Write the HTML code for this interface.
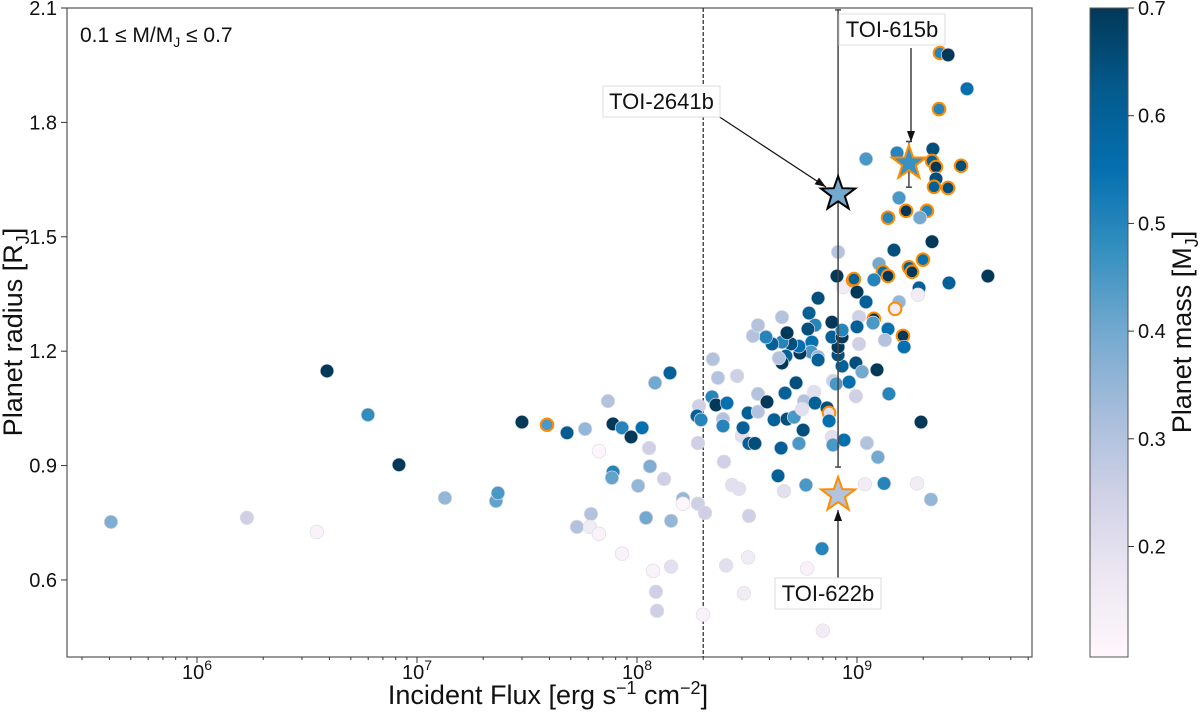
<!DOCTYPE html>
<html><head><meta charset="utf-8"><style>
body{margin:0;background:#fff}
svg{font-family:"Liberation Sans","DejaVu Sans",sans-serif}
</style></head><body>
<svg id="c" width="1200" height="713" xmlns="http://www.w3.org/2000/svg">
<defs><linearGradient id="cm" x1="0" y1="1" x2="0" y2="0">
<stop offset="0" stop-color="#fff7fb"/><stop offset="0.125" stop-color="#ece7f2"/><stop offset="0.25" stop-color="#d0d1e6"/><stop offset="0.375" stop-color="#a6bddb"/><stop offset="0.5" stop-color="#74a9cf"/><stop offset="0.625" stop-color="#3690c0"/><stop offset="0.75" stop-color="#0570b0"/><stop offset="0.875" stop-color="#045a8d"/><stop offset="1" stop-color="#023858"/>
</linearGradient></defs>
</svg>
<script>
const logFlux=[5.609,6.227,6.545,6.591,6.777,6.918,7.127,7.359,7.368,7.477,7.591,7.682,8.150,8.082,7.868,7.764,7.891,7.932,7.973,8.023,7.827,8.055,7.891,7.886,8.059,8.005,8.123,8.209,8.209,8.277,8.309,8.041,8.155,7.791,7.727,7.786,7.827,8.509,8.282,8.273,8.291,8.277,8.345,8.368,8.455,8.341,8.359,8.409,8.391,8.391,8.395,8.432,8.464,8.477,8.482,8.505,8.55,8.55,8.591,8.509,8.536,8.623,8.682,8.714,8.655,8.755,8.736,8.673,8.723,8.805,8.759,8.75,8.809,8.864,8.873,8.873,8.886,8.891,8.941,8.641,8.768,8.668,8.891,8.905,8.964,8.995,8.995,8.932,8.914,8.914,8.886,8.932,8.932,8.886,8.823,8.782,8.809,8.777,8.795,8.791,8.823,8.823,8.741,8.736,8.7,8.659,8.682,8.614,8.586,8.527,8.55,8.659,8.677,8.659,8.645,8.936,8.982,9.0,8.914,8.909,8.986,9.041,9.1,9.118,9.141,9.077,9.168,9.236,9.25,9.3,9.341,9.418,9.282,9.277,9.191,9.173,9.077,9.073,9.009,9.0,9.141,9.209,9.214,9.127,9.009,9.023,9.091,9.145,9.291,9.045,9.095,9.123,9.036,9.273,9.336,9.377,9.414,9.5,9.373,9.041,9.182,9.345,9.341,9.359,9.359,9.35,9.414,9.473,9.191,9.223,9.318,9.286,9.141,9.595,7.932,8.073,8.155,8.086,8.091,8.3,8.405,8.505,8.486,8.773,8.841,8.845];
const radius=[0.752,0.763,0.726,1.148,1.033,0.902,0.815,0.807,0.828,1.014,1.007,0.986,1.143,1.117,1.069,0.996,1.009,0.999,0.975,0.999,0.938,0.946,0.883,0.868,0.898,0.847,0.865,0.813,0.800,0.800,0.776,0.763,0.755,0.773,0.739,0.739,0.721,0.768,1.056,1.030,1.020,0.959,1.179,1.130,1.135,1.080,1.059,1.064,1.022,1.004,0.910,0.849,0.839,0.978,0.999,1.038,1.088,1.041,1.067,0.958,0.958,1.020,1.022,1.027,0.946,0.993,0.958,1.090,1.117,1.093,1.069,1.048,1.064,1.051,1.038,1.017,0.975,0.954,0.967,0.873,0.849,0.833,1.122,1.114,1.119,1.082,1.169,1.161,1.190,1.211,1.237,1.237,1.255,1.276,1.339,1.300,1.268,1.258,1.224,1.198,1.185,1.177,1.195,1.213,1.219,1.224,1.248,1.219,1.237,1.240,1.268,1.289,1.187,1.169,1.182,1.368,1.386,1.355,1.460,1.397,1.389,1.329,1.429,1.408,1.397,1.387,1.465,1.420,1.408,1.440,1.487,1.379,1.366,1.348,1.329,1.311,1.285,1.274,1.290,1.264,1.258,1.240,1.211,1.229,1.219,1.146,1.151,1.088,1.014,0.959,0.922,0.853,0.851,0.853,0.811,1.982,1.977,1.888,1.835,1.704,1.720,1.730,1.699,1.683,1.652,1.631,1.628,1.686,1.602,1.568,1.568,1.550,1.550,1.397,0.669,0.624,0.635,0.569,0.519,0.509,0.638,0.659,0.565,0.630,0.682,0.467];
const mass=[.38,.25,.12,.7,.48,.7,.35,.42,.45,.7,.45,.62,.6,.4,.3,.35,.7,.5,.7,.55,.1,.25,.5,.42,.38,.35,.25,.35,.1,.25,.25,.4,.35,.3,.3,.15,.12,.25,.25,.6,.5,.25,.3,.3,.25,.5,.7,.55,.3,.5,.25,.2,.2,.2,.6,.6,.3,.3,.7,.6,.65,.6,.65,.45,.6,.65,.45,.6,.65,.2,.3,.2,.6,.65,.2,.55,.2,.45,.55,.6,.45,.2,.25,.45,.55,.25,.65,.6,.65,.7,.6,.7,.5,.7,.65,.6,.5,.65,.55,.45,.35,.6,.7,.55,.65,.5,.7,.6,.5,.3,.3,.3,.6,.7,.3,.15,.55,.7,.3,.7,.6,.6,.4,.55,.7,.5,.65,.6,.7,.55,.7,.6,.6,.15,.35,.15,.7,.45,.25,.6,.55,.7,.55,.3,.25,.4,.7,.5,.7,.3,.4,.5,.15,.15,.35,.5,.7,.55,.5,.45,.5,.65,.6,.7,.65,.6,.65,.65,.45,.7,.5,.4,.5,.7,.12,.12,.2,.25,.25,.12,.2,.15,.15,.12,.5,.15];
const orangeIdx=[10,74,116,120,123,124,127,128,129,135,136,141,155,158,162,163,165,166,167,169,170,172];
const yTicks=[0.6,0.9,1.2,1.5,1.8,2.1];
const yTickLabels=["0.6","0.9","1.2","1.5","1.8","2.1"];
const xTicks=[6,7,8,9];
const cbTicks=[0.2,0.3,0.4,0.5,0.6,0.7];
const stars=[{name:"TOI-2641b",f:8.914,r:1.612,m:0.4,lo:0.896,hi:2.095,edge:"#000"},{name:"TOI-615b",f:9.236,r:1.693,m:0.47,lo:1.63,hi:1.75,edge:"#ff8c00"},{name:"TOI-622b",f:8.914,r:0.823,m:0.3,lo:0.81,hi:0.835,edge:"#ff8c00"}];

const L=67,R=1032,T=8,B=657;
const xs=v=>637+(v-8)*220;
const ys=v=>8+(2.1-v)*381.3;
const cbY=v=>8+(0.7-v)*1077;
const stops=["#fff7fb","#ece7f2","#d0d1e6","#a6bddb","#74a9cf","#3690c0","#0570b0","#045a8d","#023858"];
function h2r(h){return [1,3,5].map(i=>parseInt(h.substr(i,2),16));}
function cmap(m){let t=Math.max(0,Math.min(1,(m-0.097)/0.603))*8;let i=Math.min(7,Math.floor(t));let f=t-i;let a=h2r(stops[i]),b=h2r(stops[i+1]);return "rgb("+a.map((v,k)=>Math.round(v+(b[k]-v)*f)).join(",")+")";}
const svg=document.getElementById('c');const NS="http://www.w3.org/2000/svg";
function mk(tag,at,parent){const e=document.createElementNS(NS,tag);for(const k in at)e.setAttribute(k,at[k]);(parent||svg).appendChild(e);return e;}
const frame=mk('rect',{x:L,y:T,width:R-L,height:B-T,fill:'none',stroke:'#555','stroke-width':1.2});


const dl=mk('line',{x1:xs(Math.log10(2e8)),x2:xs(Math.log10(2e8)),y1:T,y2:B,stroke:'#333','stroke-width':1.3,'stroke-dasharray':'4,2'});


yTicks.forEach((v,i)=>{const y=ys(v);mk('line',{x1:L-6,x2:L,y1:y,y2:y,stroke:'#333'});
const t=mk('text',{x:L-10,y:y+7,'text-anchor':'end','font-size':20,fill:'#111'});t.textContent=yTickLabels[i];

});
for(let d=5;d<=9;d++){for(let k=1;k<10;k++){const v=d+Math.log10(k);const x=xs(v);if(x<L||x>R)continue;mk('line',{x1:x,x2:x,y1:B,y2:B+(k==1?6:3),stroke:'#333'});}}
xTicks.forEach(v=>{const x=xs(v);const t=mk('text',{x:x,y:B+22,'text-anchor':'middle','font-size':20,fill:'#111'});t.innerHTML='10<tspan dy="-9" font-size="14">'+v+'</tspan>';

});
const g=mk('g',{});
logFlux.forEach((f,i)=>{const o=orangeIdx.includes(i);const c=mk('circle',{cx:xs(f),cy:ys(radius[i]),r:o?6.3:6.8,fill:cmap(mass[i]),stroke:o?'#ff8c00':'#e0dde8','stroke-width':o?2:0.7},g);

});
function starPath(cx,cy,ro){const ri=ro*0.4;let p="";for(let k=0;k<10;k++){const a=-Math.PI/2+k*Math.PI/5;const r=k%2?ri:ro;p+=(k?"L":"M")+(cx+r*Math.cos(a)).toFixed(1)+","+(cy+r*Math.sin(a)).toFixed(1);}return p+"Z";}
stars.forEach(s=>{const x=xs(s.f);mk('line',{x1:x,x2:x,y1:ys(s.hi),y2:ys(s.lo),stroke:'#444','stroke-width':1.5});
[s.hi,s.lo].forEach(v=>mk('line',{x1:x-3,x2:x+3,y1:ys(v),y2:ys(v),stroke:'#444','stroke-width':1.5}));
const p=mk('path',{d:starPath(x,ys(s.r),18),fill:cmap(s.m),stroke:s.edge,'stroke-width':2});

});
function ann(txt,bx,by,bw,x1,y1,x2,y2,name){mk('line',{x1:x1,y1:y1,x2:x2,y2:y2,stroke:'#111','stroke-width':1.2});
const ang=Math.atan2(y2-y1,x2-x1);const hl=11,hw=4;const px=x2-hl*Math.cos(ang),py=y2-hl*Math.sin(ang);
mk('path',{d:`M${x2},${y2}L${px-hw*Math.sin(ang)},${py+hw*Math.cos(ang)}L${px+hw*Math.sin(ang)},${py-hw*Math.cos(ang)}Z`,fill:'#111'});
mk('rect',{x:bx,y:by,width:bw,height:31,fill:'#fff',stroke:'#ddd'});
const t=mk('text',{x:bx+bw/2,y:by+23,'text-anchor':'middle','font-size':22,fill:'#111'});t.textContent=txt;

}
ann("TOI-615b",839,14,106,911,48,911,142,'toi-615b-label');
ann("TOI-2641b",603,86,117,712,112,826,187,'toi-2641b-label');
ann("TOI-622b",775,578,106,838,578,838,510,'toi-622b-label');
const rt=mk('text',{x:80,y:42,'font-size':21,fill:'#111'});rt.innerHTML='0.1 ≤ M/M<tspan dy="5" font-size="14">J</tspan><tspan dy="-5"> ≤ 0.7</tspan>';


const xt=mk('text',{x:548,y:704,'text-anchor':'middle','font-size':27,fill:'#111'});xt.innerHTML='Incident Flux [erg s<tspan dy="-10" font-size="18">−1</tspan><tspan dy="10"> cm</tspan><tspan dy="-10" font-size="18">−2</tspan><tspan dy="10">]</tspan>';


const yt=mk('text',{transform:'translate(22,332) rotate(-90)','text-anchor':'middle','font-size':27,fill:'#111'});yt.innerHTML='Planet radius [R<tspan dy="7" font-size="18">J</tspan><tspan dy="-7">]</tspan>';


const cb=mk('rect',{x:1090,y:T,width:38,height:B-T,fill:'url(#cm)',stroke:'#555','stroke-width':1});


cbTicks.forEach(v=>{const y=cbY(v);mk('line',{x1:1128,x2:1134,y1:y,y2:y,stroke:'#333'});const t=mk('text',{x:1138,y:y+7,'font-size':20,fill:'#111'});t.textContent=v.toFixed(1);

});
const ct=mk('text',{transform:'translate(1191,332) rotate(-90)','text-anchor':'middle','font-size':27,fill:'#111'});ct.innerHTML='Planet mass [M<tspan dy="7" font-size="18">J</tspan><tspan dy="-7">]</tspan>';


</script>
</body></html>
